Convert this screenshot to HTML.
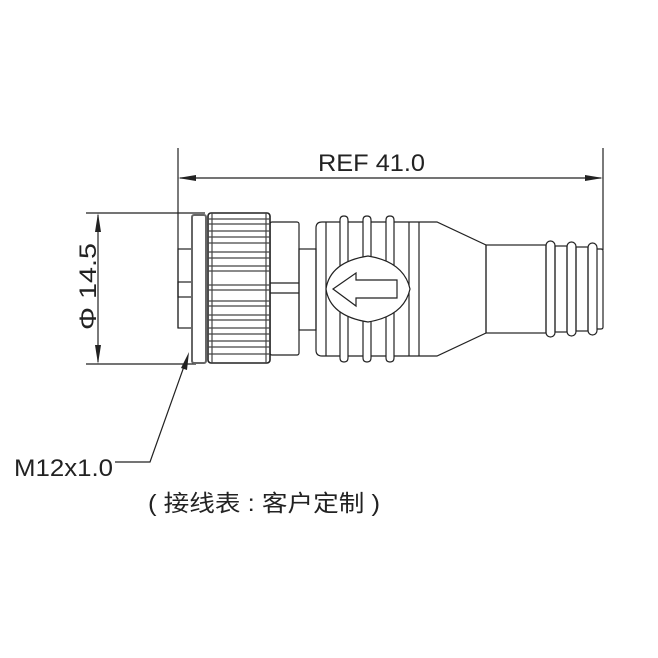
<!DOCTYPE html>
<html><head><meta charset="utf-8"><style>
html,body{margin:0;padding:0;background:#fff;}
svg{display:block}
</style></head><body>
<svg width="658" height="658" viewBox="0 0 658 658" xmlns="http://www.w3.org/2000/svg">
<g fill="none" stroke="#222" stroke-width="1.2">
<line x1="178" y1="148" x2="178" y2="328"/>
<line x1="603" y1="148" x2="603" y2="250"/>
<line x1="180" y1="178" x2="601" y2="178"/>
<line x1="86" y1="213" x2="205" y2="213"/>
<line x1="86" y1="364" x2="196" y2="364"/>
<line x1="98" y1="215" x2="98" y2="362"/>
<polyline points="115,462 150,462 187,358"/>
<rect x="178" y="249" width="14" height="79"/>
<rect x="178" y="282" width="14" height="15"/>
<rect x="192" y="215" width="14" height="148" rx="2" stroke="#666" stroke-width="2"/>
<rect x="270" y="222" width="29" height="133" rx="2"/>
<line x1="270" y1="283" x2="299" y2="283"/>
<line x1="270" y1="293" x2="299" y2="293"/>
<rect x="299" y="249" width="17" height="81"/>
<path d="M322,222 H437 L486,245 V333 L437,356 H322 Q316,356 316,350 V228 Q316,222 322,222 Z"/>
<line x1="326" y1="222" x2="326" y2="356"/>
<line x1="409" y1="222" x2="409" y2="356"/>
<line x1="419" y1="222" x2="419" y2="356"/>
<path d="M340,222 V220 Q340,216 344,216 Q348,216 348,220 V358 Q348,362 344,362 Q340,362 340,358 Z" fill="#fff"/>
<path d="M363,222 V220 Q363,216 367,216 Q371,216 371,220 V358 Q371,362 367,362 Q363,362 363,358 Z" fill="#fff"/>
<path d="M386,222 V220 Q386,216 390,216 Q394,216 394,220 V358 Q394,362 390,362 Q386,362 386,358 Z" fill="#fff"/>
<path d="M326,289 Q330,262 368,256 Q404,262 410,289 Q404,316 368,322 Q330,316 326,289 Z" fill="#fff"/>
<path d="M333,289 L356,273 V280 H397 V298 H356 V306 Z"/>
<rect x="486" y="245" width="60" height="88"/>
<rect x="546" y="241" width="9" height="96" rx="4.5"/>
<rect x="555" y="246" width="12" height="86"/>
<rect x="567" y="242" width="9" height="94" rx="4.5"/>
<rect x="576" y="247" width="12" height="84"/>
<rect x="588" y="243" width="9" height="92" rx="4.5"/>
<path d="M597,249 H601 Q603,249 603,251 V327 Q603,329 601,329 H597"/>
</g>
<rect x="208" y="213" width="62" height="150" rx="3" fill="#fff" stroke="#222" stroke-width="1.6"/>
<g stroke="#444" stroke-width="1.2">
<line x1="208" y1="219" x2="270" y2="219"/><line x1="208" y1="224" x2="270" y2="224"/>
<line x1="208" y1="231" x2="270" y2="231"/><line x1="208" y1="237" x2="270" y2="237"/>
<line x1="208" y1="243" x2="270" y2="243"/><line x1="208" y1="252" x2="270" y2="252"/>
<line x1="208" y1="258" x2="270" y2="258"/><line x1="208" y1="266" x2="270" y2="266"/>
<line x1="208" y1="271" x2="270" y2="271"/><line x1="208" y1="285" x2="270" y2="285"/>
<line x1="208" y1="290" x2="270" y2="290"/><line x1="208" y1="301" x2="270" y2="301"/>
<line x1="208" y1="306" x2="270" y2="306"/><line x1="208" y1="315" x2="270" y2="315"/>
<line x1="208" y1="320" x2="270" y2="320"/><line x1="208" y1="328" x2="270" y2="328"/>
<line x1="208" y1="334" x2="270" y2="334"/><line x1="208" y1="341" x2="270" y2="341"/>
<line x1="208" y1="347" x2="270" y2="347"/><line x1="208" y1="354" x2="270" y2="354"/>
<line x1="212" y1="213" x2="212" y2="363"/><line x1="266" y1="213" x2="266" y2="363"/>
</g>
<g fill="#222">
<polygon points="178,178 196,175 196,181"/>
<polygon points="603,178 585,175 585,181"/>
<polygon points="98,213 95,232 101,232"/>
<polygon points="98,364 95,345 101,345"/>
<polygon points="189,352 181,368 187,370"/>
</g>
<g font-family="'Liberation Sans', 'Noto Sans CJK SC', sans-serif" fill="#222">
<text x="318" y="171" font-size="24" textLength="107" lengthAdjust="spacingAndGlyphs">REF 41.0</text>
<text transform="translate(96,330) rotate(-90)" font-size="24" textLength="87" lengthAdjust="spacingAndGlyphs">Φ 14.5</text>
<text x="14" y="476" font-size="24" textLength="99" lengthAdjust="spacingAndGlyphs">M12x1.0</text>
<text x="148" y="511" font-size="23" textLength="232" lengthAdjust="spacingAndGlyphs">( 接线表 : 客户定制 )</text>
</g>
</svg>
</body></html>
